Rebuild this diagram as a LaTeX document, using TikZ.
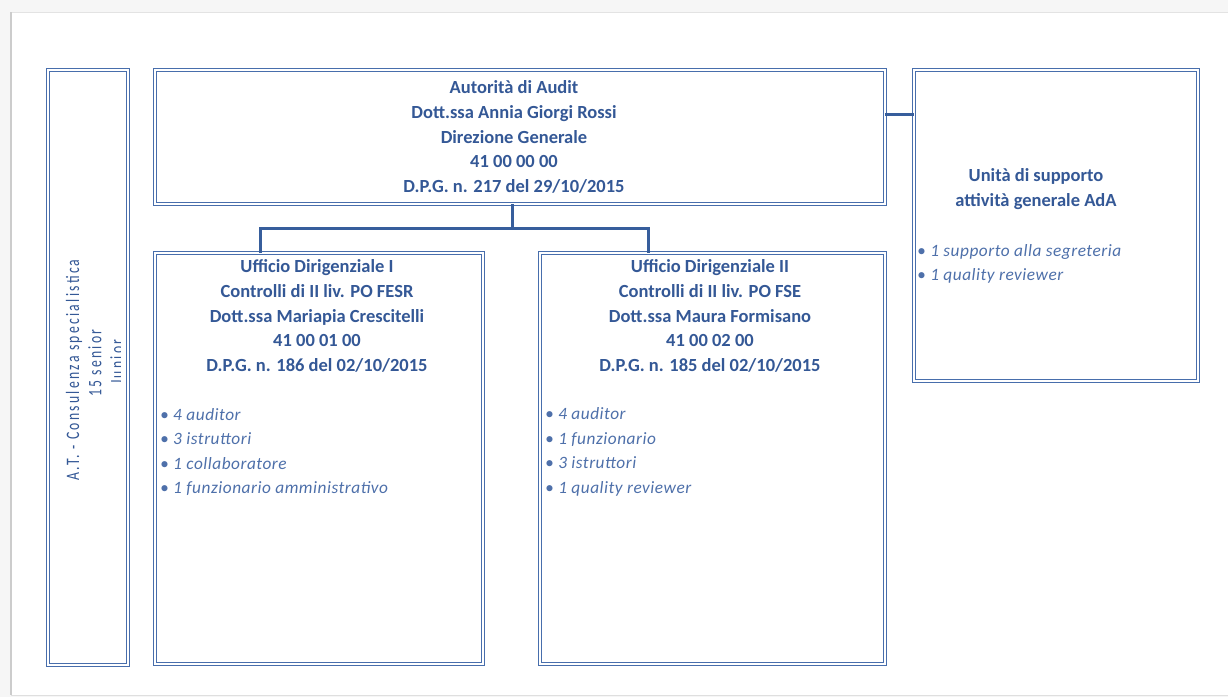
\documentclass[tikz,border=0pt]{standalone}
\usepackage{fontspec}
\setmainfont{Carlito}
\newfontfamily\condfont{Carlito}[FakeStretch=0.72,LetterSpace=12]
\newfontfamily\itemfont{Carlito}[LetterSpace=3]
\definecolor{boxblue}{RGB}{72,110,172}
\definecolor{connblue}{RGB}{55,94,156}
\definecolor{headblue}{RGB}{52,88,150}
\definecolor{itblue}{RGB}{78,112,170}
\begin{document}
\begin{tikzpicture}[x=1pt,y=-1pt,
  box/.style={draw=boxblue,double=white,double distance=1.6pt,line width=1.05pt,
    inner sep=0pt,outer sep=0pt,anchor=north west},
  conn/.style={draw=connblue,line width=3pt},
  head/.style={text=headblue,font=\fontsize{18.5}{24.6}\selectfont\bfseries,align=center,inner sep=0pt},
  items/.style={text=itblue,font=\fontsize{17.3}{24.6}\itemfont\itshape,align=left,inner sep=0pt,anchor=west},
  vert/.style={text=headblue,font=\fontsize{19}{21}\condfont,rotate=90,inner sep=0pt}]
\useasboundingbox (0,0) rectangle (1228,697);
% page
\fill[gray!7] (0,0) rectangle (1228,697);
\fill[white] (11,12) rectangle (1228,695);
\draw[gray!25,line width=1pt] (11,695) -- (1228,695);
\draw[gray!22,line width=1pt] (11,12) -- (1228,12);
\draw[gray!40,line width=2pt] (11,12) -- (11,695);
% boxes
\node[box,minimum width=80pt,minimum height=595pt] (at) at (48,70) {};
\node[box,minimum width=730pt,minimum height=134pt] (top) at (155,70) {};
\node[box,minimum width=284pt,minimum height=311pt] (supp) at (914,70) {};
\node[box,minimum width=328pt,minimum height=411pt] (ud1) at (155,253) {};
\node[box,minimum width=345pt,minimum height=411pt] (ud2) at (540,253) {};
% connectors
\coordinate (j) at (512,228);
\coordinate (jl) at (260,228);
\coordinate (jr) at (648,228);
\coordinate (k) at (0,114);
\draw[conn] (top.south -| j) -- (j);
\draw[conn] (jl |- ud1.north) -- (jl) -- (jr) -- (jr |- ud2.north);
\draw[conn] (top.east |- k) -- (supp.west |- k);
% texts
\node[head] (tt) at (514,137) {Autorità di Audit\\Dott.ssa Annia Giorgi Rossi\\Direzione Generale\\41 00 00 00\\D.P.G. n. 217 del 29/10/2015};
\node[head] (t1) at (317,316) {Ufficio Dirigenziale I\\Controlli di II liv. PO FESR\\Dott.ssa Mariapia Crescitelli\\41 00 01 00\\D.P.G. n. 186 del 02/10/2015};
\node[head] (t2) at (710,316) {Ufficio Dirigenziale II\\Controlli di II liv. PO FSE\\Dott.ssa Maura Formisano\\41 00 02 00\\D.P.G. n. 185 del 02/10/2015};
\node[head] (ts) at (1036,189) {Unità di supporto\\attività generale AdA};
\node[items] (i1) at (160,452) {• 4 auditor\\• 3 istruttori\\• 1 collaboratore\\• 1 funzionario amministrativo};
\node[items] (i2) at (545,452) {• 4 auditor\\• 1 funzionario\\• 3 istruttori\\• 1 quality reviewer};
\node[items] (is) at (917,264) {• 1  supporto alla segreteria\\• 1 quality reviewer};
% vertical label
\node[vert] (v1) at (74,370) {A.T. - Consulenza specialistica};
\node[vert] (v2) at (95,363) {15 senior};
\begin{scope}
\clip (100,300) rectangle (120,430);
\node[vert] (v3) at (117,362) {Junior};
\end{scope}
\end{tikzpicture}
\end{document}
